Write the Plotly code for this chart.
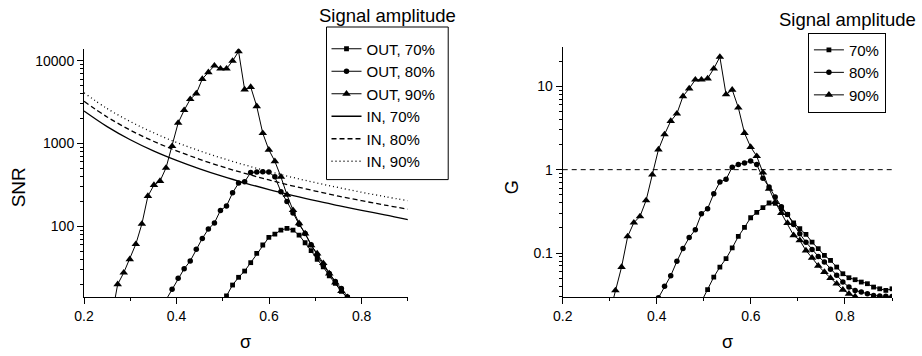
import plotly.graph_objects as go

W, H = 922, 356
FONT = "Liberation Sans, Arial, sans-serif"

# common sigma grid (ascending)
SIGMA = [0.2467, 0.2597, 0.2728, 0.2859, 0.2989, 0.3120, 0.3251, 0.3381, 0.3512, 0.3643,
         0.3773, 0.3904, 0.4035, 0.4165, 0.4296, 0.4427, 0.4557, 0.4688, 0.4819, 0.4949,
         0.5080, 0.5211, 0.5341, 0.5472, 0.5603, 0.5733, 0.5864, 0.5995, 0.6125, 0.6256,
         0.6387, 0.6517, 0.6648, 0.6779, 0.6909, 0.7040, 0.7171, 0.7301, 0.7432, 0.7563,
         0.7693, 0.7824, 0.7955, 0.8085, 0.8216, 0.8347, 0.8477, 0.8608, 0.8739, 0.8869,
         0.9000]

# Left panel: SNR (OUT)
SNR_OUT_70 = [10, 14.5, 19.6, 24.3, 28.9, 36.5, 47.3, 59.6, 73.6, 80.7,
              90.2, 94.7, 90.2, 78.5, 63.5, 51, 40, 32.5, 25.3, 20.5,
              16.4, 13.8, 11]                                   # SIGMA[19:42]
SNR_OUT_80 = [13, 17.4, 23.6, 30.8, 38.2, 52.8, 71.6, 92.7, 110, 156,
              176, 254, 333, 345, 447, 452, 455, 452, 396, 262,
              200, 145, 106, 82, 60, 45, 34, 27, 21.7, 17.8,
              14.1, 11.5]                                       # SIGMA[10:42]
SNR_OUT_90 = [8, 20, 27.6, 40, 61, 107, 232, 315, 352, 508,
              927, 1770, 2520, 3420, 4000, 6000, 7230, 8700, 8000, 8000,
              9900, 12900, 4470, 4800, 2810, 1330, 840, 610, 396, 240,
              157, 109, 82, 59, 47, 36, 27, 21, 16.5, 14,
              11.5]                                             # SIGMA[1:42]

# Left panel: SNR (IN)
SIGMA_IN = [0.20, 0.25, 0.30, 0.35, 0.40, 0.45, 0.50, 0.55, 0.60, 0.65, 0.70, 0.75, 0.80, 0.85, 0.90]
SNR_IN_70 = [2470, 1600, 1110, 815, 625, 494, 400, 331, 278, 237, 204, 178, 156, 138, 121]
SNR_IN_80 = [3230, 2090, 1450, 1065, 816, 645, 522, 432, 363, 309, 267, 232, 204, 181, 161]
SNR_IN_90 = [4090, 2640, 1840, 1350, 1030, 816, 661, 546, 459, 391, 337, 294, 258, 229, 204]

# Right panel: gain G
G_70 = [0.026, 0.0363, 0.0514, 0.0678, 0.0855, 0.115, 0.158, 0.203, 0.265, 0.307,
        0.35, 0.398, 0.395, 0.34, 0.29, 0.229, 0.196, 0.167, 0.135, 0.113,
        0.0936, 0.0815, 0.0678, 0.0564, 0.0505, 0.0478, 0.0448, 0.0428, 0.039, 0.0372,
        0.0356, 0.0372]                                         # SIGMA[19:51]
G_80 = [0.029, 0.040, 0.0533, 0.0794, 0.113, 0.153, 0.19, 0.296, 0.34, 0.515,
        0.71, 0.765, 1.07, 1.15, 1.2, 1.27, 1.15, 0.79, 0.62, 0.47,
        0.36, 0.29, 0.22, 0.17, 0.135, 0.11, 0.091, 0.078, 0.064, 0.054,
        0.045, 0.039, 0.0356, 0.034, 0.0324, 0.031, 0.0304, 0.0302, 0.030]   # SIGMA[12:51]
G_90 = [0.018, 0.0356, 0.0678, 0.158, 0.231, 0.275, 0.428, 0.87, 1.74, 2.65,
        3.83, 4.7, 7.59, 9.4, 12.0, 12.0, 12.4, 16.3, 22.5, 8.0,
        9.1, 5.55, 2.75, 1.87, 1.45, 0.92, 0.59, 0.408, 0.301, 0.229,
        0.163, 0.142, 0.107, 0.0877, 0.0703, 0.059, 0.050, 0.0428, 0.0362, 0.0324,
        0.030, 0.027]                                           # SIGMA[4:46]
G_REF = [1, 1]
G_REF_X = [0.2, 0.9]

X_TICKS = [0.2, 0.4, 0.6, 0.8]
X_TICK_TEXT = ["0.2", "0.4", "0.6", "0.8"]
X_MINOR = [0.3, 0.5, 0.7, 0.9]
SNR_TICKS = [100, 1000, 10000]
SNR_TICK_TEXT = ["100", "1000", "10000"]
G_TICKS = [0.1, 1, 10]
G_TICK_TEXT = ["0.1", "1", "10"]

# fixed plot-area margins (pixels)
ML, MR, MT, MB = 84.4, 30.3, 46.7, 59.3
PW = W - ML - MR
PH = H - MT - MB


def px_x(x):
    return (x - ML) / PW


def px_y(y):
    return (H - MB - y) / PH


fig = go.Figure()

def out_trace(x, y, sym, size, name, xa, ya, legend, show=True):
    return go.Scatter(
        x=x, y=y, mode="lines+markers", name=name, xaxis=xa, yaxis=ya, legend=legend,
        line=dict(color="black", width=1),
        marker=dict(symbol=sym, size=size, color="black", line=dict(width=0)),
        showlegend=show)

fig.add_trace(out_trace(SIGMA[19:42], SNR_OUT_70, "square", 4.8, "OUT, 70%", "x", "y", "legend"))
fig.add_trace(out_trace(SIGMA[10:42], SNR_OUT_80, "circle", 5.5, "OUT, 80%", "x", "y", "legend"))
fig.add_trace(out_trace(SIGMA[1:42], SNR_OUT_90, "triangle-up", 7.5, "OUT, 90%", "x", "y", "legend"))

for vals, dash, name in [(SNR_IN_70, "solid", "IN, 70%"),
                         (SNR_IN_80, "5px,3px", "IN, 80%"),
                         (SNR_IN_90, "1px,3px", "IN, 90%")]:
    fig.add_trace(go.Scatter(x=SIGMA_IN, y=vals, mode="lines", name=name,
                             xaxis="x", yaxis="y", legend="legend",
                             line=dict(color="black", width=1.3, dash=dash, shape="spline")))

fig.add_trace(out_trace(SIGMA[19:51], G_70, "square", 4.8, "70%", "x2", "y2", "legend2"))
fig.add_trace(out_trace(SIGMA[12:51], G_80, "circle", 5.5, "80%", "x2", "y2", "legend2"))
fig.add_trace(out_trace(SIGMA[4:46], G_90, "triangle-up", 7.5, "90%", "x2", "y2", "legend2"))
fig.add_trace(go.Scatter(x=G_REF_X, y=G_REF, mode="lines", xaxis="x2", yaxis="y2",
                         showlegend=False, hoverinfo="skip",
                         line=dict(color="black", width=1, dash="5px,4px")))

tickfont = dict(family=FONT, size=14, color="black")

def xaxis(domain, anchor):
    return dict(domain=domain, anchor=anchor, range=[0.2, 0.9], showgrid=False, zeroline=False,
                showline=True, linecolor="black", linewidth=1, mirror=False, automargin=False,
                ticks="outside", ticklen=6, tickwidth=1, tickcolor="black",
                tickmode="array", tickvals=X_TICKS, ticktext=X_TICK_TEXT, tickfont=tickfont,
                minor=dict(tickmode="array", tickvals=X_MINOR, ticks="outside", ticklen=3,
                           tickcolor="black", tickwidth=1, showgrid=False))

def yaxis(domain, anchor, rng, tv, tt, minor):
    return dict(domain=domain, anchor=anchor, type="log", range=rng, showgrid=False, zeroline=False,
                showline=True, linecolor="black", linewidth=1, mirror=False, automargin=False,
                ticks="outside", ticklen=6, tickwidth=1, tickcolor="black",
                tickmode="array", tickvals=tv, ticktext=tt, tickfont=tickfont,
                minor=dict(tickmode="array", tickvals=minor, ticks="outside", ticklen=3,
                           tickcolor="black", tickwidth=1, showgrid=False))

SNR_MINOR = [20, 30, 40, 50, 60, 70, 80, 90,
             200, 300, 400, 500, 600, 700, 800, 900,
             2000, 3000, 4000, 5000, 6000, 7000, 8000, 9000]
G_MINOR = [0.03, 0.04, 0.05, 0.06, 0.07, 0.08, 0.09,
           0.2, 0.3, 0.4, 0.5, 0.6, 0.7, 0.8, 0.9,
           2, 3, 4, 5, 6, 7, 8, 9, 20]

fig.update_layout(
    width=W, height=H,
    margin=dict(l=ML, r=MR, t=MT, b=MB, autoexpand=False),
    paper_bgcolor="white", plot_bgcolor="white",
    font=dict(family=FONT, color="black"),
    xaxis=xaxis([0, px_x(408)], "y"),
    yaxis=yaxis([0, px_y(48.3)], "x", [1.148, 4.145], SNR_TICKS, SNR_TICK_TEXT, SNR_MINOR),
    xaxis2=xaxis([px_x(562.7), 1], "y2"),
    yaxis2=yaxis([0, 1], "x2", [-1.528, 1.472], G_TICKS, G_TICK_TEXT, G_MINOR),
    legend=dict(x=px_x(326.7), y=px_y(32.2), xanchor="left", yanchor="top",
                bgcolor="rgba(0,0,0,0)", borderwidth=0,
                font=dict(family=FONT, size=15, color="black"), tracegroupgap=0),
    legend2=dict(x=px_x(807.7), y=px_y(32.3), xanchor="left", yanchor="top",
                 bgcolor="white", bordercolor="black", borderwidth=1,
                 font=dict(family=FONT, size=15, color="black"), tracegroupgap=0),
    showlegend=True,
)

# frame of the left legend
fig.add_shape(type="rect", xref="paper", yref="paper",
              x0=px_x(326.7), x1=px_x(448.3), y0=px_y(179.3), y1=px_y(26.7),
              line=dict(color="black", width=1), fillcolor="white", layer="above")

def ann(text, x, y, size, angle=0):
    fig.add_annotation(text=text, x=px_x(x), y=px_y(y), xref="paper", yref="paper",
                       showarrow=False, textangle=angle, xanchor="center", yanchor="middle",
                       font=dict(family=FONT, size=size, color="black"))

ann("SNR", 18.5, 187, 19, -90)
ann("σ", 246, 342, 18)
ann("G", 512, 187, 18, -90)
ann("σ", 727, 342, 18)
ann("Signal amplitude", 388, 15, 18.5)
ann("Signal amplitude", 847.5, 19, 18.5)

fig.write_html("out.html", config={"displayModeBar": False},
               post_script="document.body.style.margin='0';document.body.style.padding='0';")
